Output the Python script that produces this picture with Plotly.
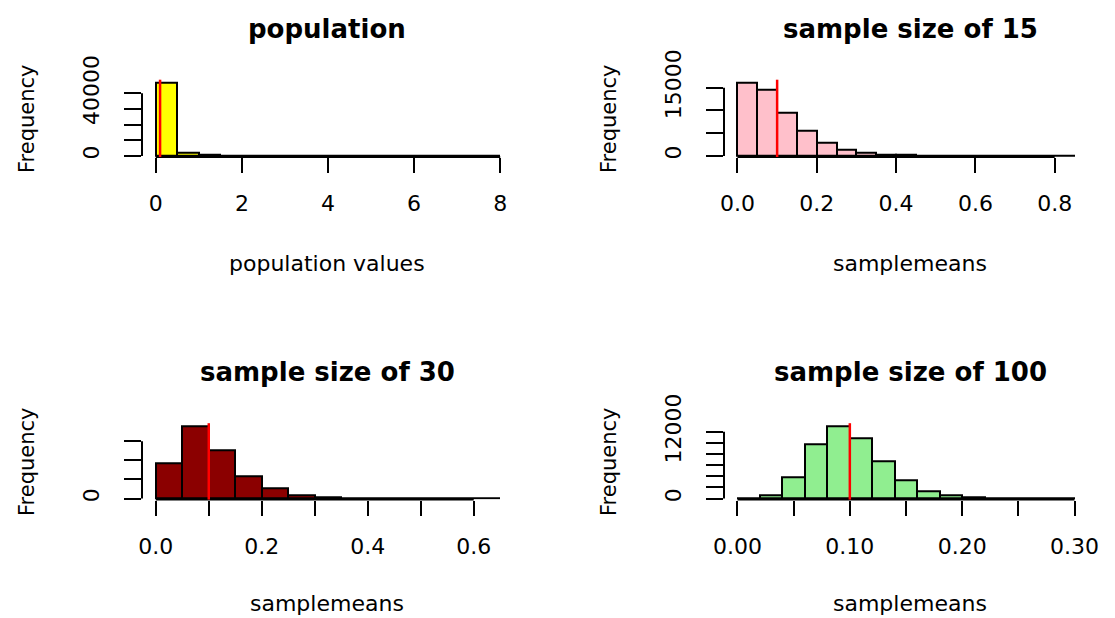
import plotly.graph_objects as go

# ---------------- data ----------------
titles = ["population", "sample size of 15", "sample size of 30", "sample size of 100"]
xlabels = ["population values", "samplemeans", "samplemeans", "samplemeans"]
fills = ["#FFFF00", "#FFC0CB", "#8B0000", "#90EE90"]

# histogram breaks: start, width, number of bins
pop_start, pop_width = 0.0, 0.5
pop_counts = [46800, 2300, 700, 250, 80, 30, 15, 8, 5, 3, 2, 1, 1, 1, 1, 1]

s15_start, s15_width = 0.0, 0.05
s15_counts = [16100, 14500, 9500, 5440, 2860, 1400, 800, 300, 200, 100, 40, 20, 10, 5, 3, 2, 1]

s30_start, s30_width = 0.0, 0.05
s30_counts = [9360, 18980, 12750, 5960, 2590, 890, 450, 120, 50, 20, 8, 4, 2]

s100_start, s100_width = 0.0, 0.02
s100_counts = [20, 600, 3900, 9800, 13030, 10800, 6790, 3360, 1320, 600, 250, 60, 20, 5, 2]

means = [0.1, 0.1, 0.1, 0.1]

x_tickvals = [[0, 2, 4, 6, 8],
              [0.0, 0.2, 0.4, 0.6, 0.8],
              [0.0, 0.1, 0.2, 0.3, 0.4, 0.5, 0.6],
              [0.00, 0.05, 0.10, 0.15, 0.20, 0.25, 0.30]]
x_ticktext = [["0", "2", "4", "6", "8"],
              ["0.0", "0.2", "0.4", "0.6", "0.8"],
              ["0.0", "", "0.2", "", "0.4", "", "0.6"],
              ["0.00", "", "0.10", "", "0.20", "", "0.30"]]
y_tickvals = [[0, 10000, 20000, 30000, 40000],
              [0, 5000, 10000, 15000],
              [0, 5000, 10000, 15000],
              [0, 2000, 4000, 6000, 8000, 10000, 12000]]
y_ticktext = [["0", "", "", "", "40000"],
              ["0", "", "", "15000"],
              ["0", "", "", ""],
              ["0", "", "", "", "", "", "12000"]]

hists = [(pop_start, pop_width, pop_counts),
         (s15_start, s15_width, s15_counts),
         (s30_start, s30_width, s30_counts),
         (s100_start, s100_width, s100_counts)]

# ---------------- layout (pixels, in page coordinates) ----------------
OFF = 8                      # default page body margin
W, H = 1115 - OFF, 618 - OFF
col_px = [(142, 514), (724, 1088)]
row_px = [(79.7, 157.0), (423.2, 499.6)]
title_x_px = [327, 910]
title_y_px = [29, 372]
xlab_y_px = [263, 603]
ylab_x_px = [27, 609]
ylab_y_px = [119, 462]


def px(v):
    return (v - OFF) / W


def py(v):
    return 1 - (v - OFF) / H


FONT = "DejaVu Sans"
TICK_SIZE = 22
LAB_SIZE = 22
YLAB_SIZE = 21
TITLE_SIZE = 26

fig = go.Figure()
layout = dict(
    template="none",
    width=W, height=H, margin=dict(l=0, r=0, t=0, b=0, autoexpand=False),
    paper_bgcolor="white", plot_bgcolor="white", showlegend=False,
    font=dict(family=FONT, color="black"),
    bargap=0,
)
shapes = []
annotations = []

for i, (start, width, counts) in enumerate(hists):
    r, c = divmod(i, 2)
    ax = "" if i == 0 else str(i + 1)
    xref, yref = "x" + ax, "y" + ax
    nb = len(counts)
    centers = [start + width * (k + 0.5) for k in range(nb)]
    b0, bn = start, start + width * nb
    xpad = 0.04 * (bn - b0)
    ymax = max(counts)
    fig.add_trace(go.Bar(
        x=centers, y=counts, width=[width] * nb,
        marker=dict(color=fills[i], line=dict(color="black", width=2)),
        xaxis=xref, yaxis=yref, hoverinfo="x+y",
    ))
    x0p, x1p = col_px[c]
    y0p, y1p = row_px[r]
    layout["xaxis" + ax] = dict(
        domain=[px(x0p), px(x1p)], anchor=yref, automargin=False,
        range=[b0 - xpad, bn + xpad], showgrid=False, zeroline=False,
        showline=False, ticks="outside", ticklen=15, tickwidth=2, tickcolor="black",
        tickvals=x_tickvals[i], ticktext=x_ticktext[i],
        tickfont=dict(family=FONT, size=TICK_SIZE, color="black"),
        ticklabelstandoff=12,
    )
    layout["yaxis" + ax] = dict(
        domain=[py(y1p), py(y0p)], anchor=xref, automargin=False,
        range=[-0.015 * ymax, 1.04 * ymax], showgrid=False, zeroline=False,
        showline=False, ticks="outside", ticklen=17, tickwidth=2, tickcolor="black",
        tickvals=y_tickvals[i], ticktext=y_ticktext[i], tickangle=-90,
        tickfont=dict(family=FONT, size=TICK_SIZE, color="black"),
        ticklabelstandoff=16,
    )
    # R-style axis lines spanning the tick range only
    shapes.append(dict(type="line", xref=xref, yref=yref + " domain",
                       x0=x_tickvals[i][0], x1=x_tickvals[i][-1], y0=0, y1=0,
                       line=dict(color="black", width=2)))
    shapes.append(dict(type="line", xref=xref + " domain", yref=yref,
                       x0=0, x1=0, y0=y_tickvals[i][0], y1=y_tickvals[i][-1],
                       line=dict(color="black", width=2)))
    # mean line
    shapes.append(dict(type="line", xref=xref, yref=yref + " domain",
                       x0=means[i], x1=means[i], y0=0, y1=1,
                       line=dict(color="#FF0000", width=2.5)))
    # texts
    annotations.append(dict(text="<b>" + titles[i] + "</b>", xref="paper", yref="paper",
                            x=px(title_x_px[c]), y=py(title_y_px[r]),
                            xanchor="center", yanchor="middle", showarrow=False,
                            font=dict(family=FONT, size=TITLE_SIZE, color="black")))
    annotations.append(dict(text=xlabels[i], xref="paper", yref="paper",
                            x=px(title_x_px[c]), y=py(xlab_y_px[r]),
                            xanchor="center", yanchor="middle", showarrow=False,
                            font=dict(family=FONT, size=LAB_SIZE, color="black")))
    annotations.append(dict(text="Frequency", xref="paper", yref="paper",
                            x=px(ylab_x_px[c]), y=py(ylab_y_px[r]), textangle=-90,
                            xanchor="center", yanchor="middle", showarrow=False,
                            font=dict(family=FONT, size=YLAB_SIZE, color="black")))

layout["shapes"] = shapes
layout["annotations"] = annotations
fig.update_layout(**layout)
fig.write_html("out.html")
